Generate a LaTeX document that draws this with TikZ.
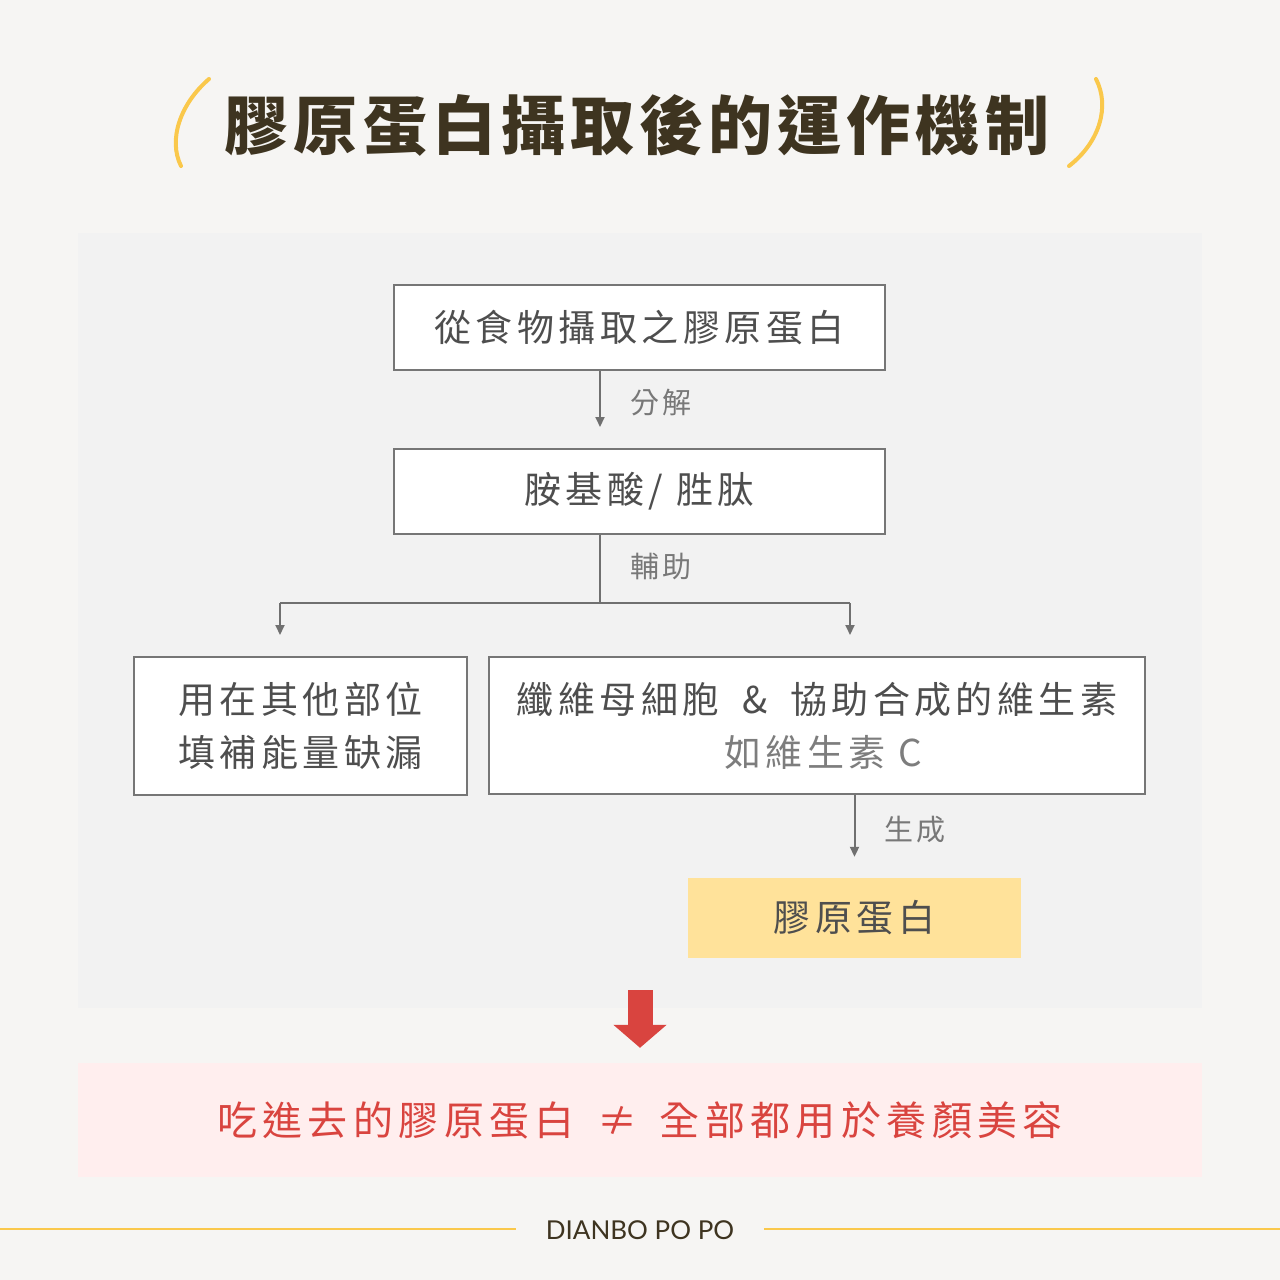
\documentclass[tikz,border=0pt]{standalone}
\usepackage{fontspec}
\usetikzlibrary{arrows.meta}
\newfontfamily\cjk{Noto Sans CJK TC}
\newfontfamily\cjkspaced[LetterSpace=12]{Noto Sans CJK TC}
\newfontfamily\cjkwide[LetterSpace=13.5]{Noto Sans CJK TC}
\newfontfamily\cjktitle[LetterSpace=8]{Noto Sans CJK TC}
\newfontfamily\brandfont{Lato}

\begin{document}
\begin{tikzpicture}[
    x=1pt, y=-1pt,
    box/.style={draw=boxline, line width=2pt, fill=white, text=boxtext, align=center,
        font=\cjkspaced\fontsize{37}{53}\selectfont},
    steplabel/.style={text=labeltext, font=\cjkspaced\fontsize{29}{34}\selectfont},
    flow/.style={draw=linecolor, line width=2pt, -{Triangle[width=9pt,length=10pt]}, shorten >=21pt},
    link/.style={draw=linecolor, line width=2pt}
]
\definecolor{pagebg}{RGB}{246,245,243}     % Paper
\definecolor{panelbg}{RGB}{242,242,242}    % Grey panel
\definecolor{boxline}{RGB}{118,118,118}    % Box border
\definecolor{boxtext}{RGB}{78,78,78}       % Box text
\definecolor{hinttext}{RGB}{125,125,125}   % Second line
\definecolor{labeltext}{RGB}{120,120,120}  % Step labels
\definecolor{linecolor}{RGB}{112,112,112}  % Connectors
\definecolor{titlecolor}{RGB}{62,52,32}    % Dark brown
\definecolor{accent}{RGB}{250,200,75}      % Yellow
\definecolor{productbg}{RGB}{255,226,154}  % Yellow box
\definecolor{alertred}{RGB}{217,68,63}     % Red
\definecolor{alertbg}{RGB}{255,238,238}    % Pink box

% Page and panel
\useasboundingbox (0,0) rectangle (1280,1280);
\fill[pagebg] (0,0) rectangle (1280,1280);
\fill[panelbg] (78,233) rectangle (1202,1008);

% Title with yellow brackets
\node[font=\cjktitle\bfseries\fontsize{64}{70}\selectfont, text=titlecolor] (title) at (637,125)
{膠原蛋白攝取後的運作機制};
\draw[accent, line width=4pt, line cap=round] (209,79) .. controls (180,104) and (168,140) .. (181,166);
\draw[accent, line width=4pt, line cap=round] (1096,79) .. controls (1110,106) and (1100,142) .. (1069,166);

% Flow boxes
\node[box, minimum width=491pt, minimum height=85pt] (food) at (639.5,327.5) {從食物攝取之膠原蛋白};
\node[box, minimum width=491pt, minimum height=85pt] (amino) at (639.5,491.5) {胺基酸/ 胜肽};
\node[box, minimum width=333pt, minimum height=138pt] (energy) at (300.5,726) {用在其他部位\\填補能量缺漏};
\node[box, minimum width=656pt, minimum height=137pt] (fibro) at (817,725.5)
{纖維母細胞\hspace{10pt} \& \hspace{10pt}協助合成的維生素\\\hspace{12pt}{\color{hinttext}如維生素 C}};
\node[fill=productbg, minimum width=333pt, minimum height=80pt, text=boxtext,
    font=\cjkspaced\fontsize{37}{44}\selectfont] (collagen) at (854.5,918) {膠原蛋白};

% Connectors
\coordinate (spine) at (600,0);
\coordinate (fork) at (600,603);
\coordinate (toEnergy) at (280,603);
\coordinate (toFibro) at (850,603);
\draw[flow] (food.south -| spine) -- (amino.north -| spine);
\node[steplabel] (split) at (661,403) {分解};
\draw[link] (amino.south -| spine) -- (fork);
\draw[link] (toEnergy) -- (toFibro);
\node[steplabel] (assist) at (661,567) {輔助};
\draw[flow] (toEnergy) -- (toEnergy |- energy.north);
\draw[flow] (toFibro) -- (toFibro |- fibro.north);
\draw[flow] (fibro.south -| collagen) -- (collagen.north);
\node[steplabel] (form) at (915,830) {生成};

% Conclusion
\node[fill=alertbg, minimum width=1124pt, minimum height=114pt, text=alertred,
    font=\cjkwide\fontsize{40}{46}\selectfont] (summary) at (640,1120)
{吃進去的膠原蛋白\hspace{8pt} ≠ \hspace{8pt}全部都用於養顏美容};
\coordinate (dropTop) at (640,990);
\draw[alertred, line width=25pt, -{Triangle[width=52pt,length=23pt]}, shorten >=15pt] (dropTop) -- (summary.north);

% Footer
\node[text=titlecolor, font=\brandfont\fontsize{26}{30}\selectfont, inner xsep=30pt] (brand) at (640,1230) {DIANBO PO PO};
\coordinate (footL) at (0,1229);
\coordinate (footR) at (1280,1229);
\draw[accent, line width=2pt] (footL) -- (footL -| brand.west);
\draw[accent, line width=2pt] (brand.east |- footR) -- (footR);

\end{tikzpicture}
\end{document}
